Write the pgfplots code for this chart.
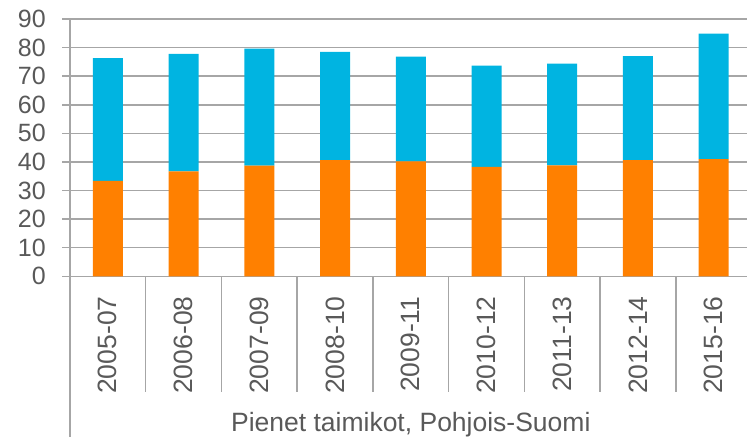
\documentclass[border=0pt]{standalone}
\usepackage{fontspec}
\setmainfont{Liberation Sans}
\usepackage{pgfplots}
\pgfplotsset{compat=1.18}
\definecolor{barorange}{HTML}{FF8000}
\definecolor{barblue}{HTML}{00B4E1}
\definecolor{gridgray}{HTML}{A6A6A6}
\definecolor{txtgray}{HTML}{595959}
\newcommand{\lblfont}{\fontsize{25bp}{30bp}\selectfont}
\newcommand{\catfont}{\fontsize{26.5bp}{32bp}\selectfont}
\begin{document}
\begin{tikzpicture}[x=1bp,y=1bp]
\useasboundingbox (0,0) rectangle (747,439);
\begin{axis}[
  at={(70bp,162.7bp)}, anchor=south west,
  scale only axis, width=677bp, height=257.3bp,
  xmin=-0.5, xmax=8.44, ymin=0, ymax=90,
  ybar stacked, bar width=30bp,
  axis x line*=bottom, axis y line*=left,
  axis line style={gridgray, line width=1.5bp},
  ytick={0,10,...,90}, ymajorgrids,
  grid style={gridgray, line width=1.5bp},
  tick align=outside, major tick length=8bp,
  y tick style={gridgray, line width=1.5bp},
  x tick style={draw=none},
  xtick={0,...,8},
  xticklabels={2005-07,2006-08,2007-09,2008-10,2009-11,2010-12,2011-13,2012-14,2015-16},
  xticklabel style={rotate=90, anchor=east, inner sep=0pt, font=\catfont, text=txtgray},
  xticklabel shift=12bp,
  yticklabel style={anchor=east, inner sep=0pt, font=\lblfont, text=txtgray},
  yticklabel shift=16bp,
  /pgf/number format/assume math mode=true,
  clip=false,
]
\addplot[fill=barorange, draw=none] coordinates {(0,33.4) (1,36.7) (2,38.7) (3,40.6) (4,40.2) (5,38.3) (6,38.8) (7,40.6) (8,41.0)};
\addplot[fill=barblue, draw=none] coordinates {(0,42.9) (1,41.1) (2,40.9) (3,37.9) (4,36.6) (5,35.4) (6,35.6) (7,36.4) (8,43.9)};
\pgfplotsinvokeforeach{0.5,1.5,2.5,3.5,4.5,5.5,6.5,7.5}{
  \draw[gridgray, line width=1.5bp] (axis cs:#1,0) -- ++(0bp,-116bp);
}
\draw[gridgray, line width=1.5bp] (axis cs:-0.5,0) -- ++(0bp,-161bp);
\node[anchor=base, font=\catfont, text=txtgray, inner sep=0pt] at (axis cs:4,0) [yshift=-155.7bp] {Pienet taimikot, Pohjois-Suomi};
\end{axis}
\end{tikzpicture}
\end{document}
